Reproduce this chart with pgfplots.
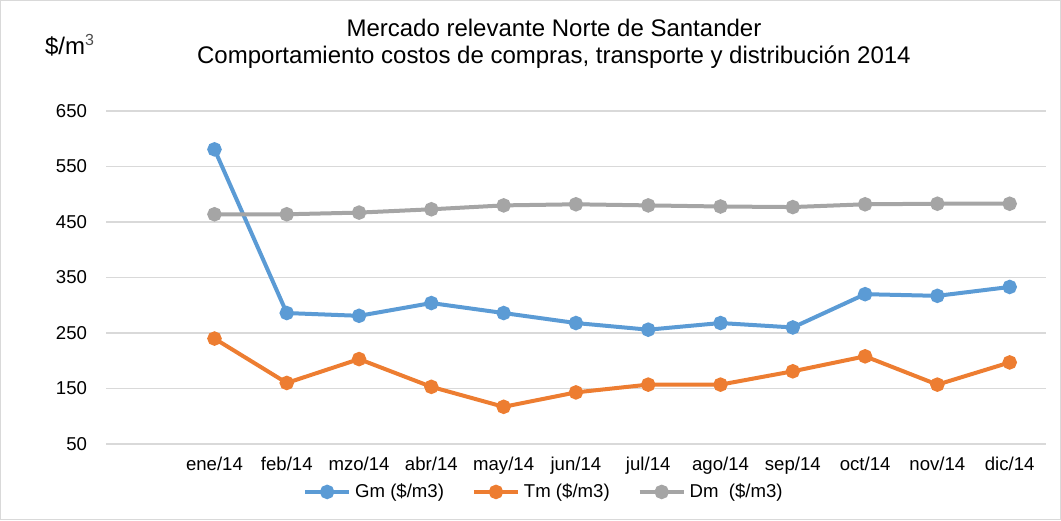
\documentclass[border=0pt]{standalone}
\usepackage{fontspec}
\setmainfont{Liberation Sans}
\usepackage{pgfplots}
\pgfplotsset{compat=1.18}

\definecolor{cGm}{HTML}{5B9BD5}
\definecolor{cTm}{HTML}{ED7D31}
\definecolor{cDm}{HTML}{A5A5A5}
\definecolor{gridc}{HTML}{D9D9D9}

\begin{document}
\begin{tikzpicture}
\begin{axis}[
  scale only axis, width=470pt, height=166.5pt,
  xmin=-0.5, xmax=12.5, ymin=50, ymax=650,
  xtick={1,...,12},
  xticklabels={ene/14,feb/14,mzo/14,abr/14,may/14,jun/14,jul/14,ago/14,sep/14,oct/14,nov/14,dic/14},
  ytick={50,150,...,650},
  ymajorgrids, grid style={gridc, line width=0.75pt},
  axis line style={draw=none}, major tick length=0pt,
  tick label style={font=\fontsize{9.3}{11}\selectfont},
  /pgf/number format/assume math mode=true,
  yticklabel style={xshift=-6pt},
  xticklabel style={yshift=-3pt},
  clip=false,
  legend style={draw=none, fill=none, legend columns=-1,
    at={(rel axis cs:0.467,-0.144)}, anchor=center,
    font=\fontsize{9.3}{11}\selectfont,
    /tikz/every even column/.append style={column sep=12pt}},
  legend image code/.code={\draw[mark repeat=2,mark phase=2,#1] plot coordinates {(0pt,0pt) (11pt,0pt) (22pt,0pt)};},
  every axis plot/.append style={line width=2pt, mark=*, mark size=2.6pt},
]
% frame around the whole chart
\draw[gridc, line width=0.6pt] (rel axis cs:-0.1122,-0.2267) rectangle (rel axis cs:1.0155,1.3318);

\addplot[color=cGm] coordinates {
 (1,581) (2,286) (3,281) (4,304) (5,286) (6,268) (7,256) (8,268) (9,260) (10,320) (11,317) (12,333)
};
\addlegendentry{Gm (\$/m3)}
\addplot[color=cTm] coordinates {
 (1,240) (2,160) (3,203) (4,153) (5,117) (6,143) (7,157) (8,157) (9,181) (10,208) (11,157) (12,197)
};
\addlegendentry{Tm (\$/m3)}
\addplot[color=cDm] coordinates {
 (1,464) (2,464) (3,467) (4,473) (5,480) (6,482) (7,480) (8,478) (9,477) (10,482) (11,483) (12,483)
};
\addlegendentry{Dm\ \ (\$/m3)}

\node[font=\fontsize{12}{14}\selectfont] at (rel axis cs:0.4766,1.2492) {Mercado relevante Norte de Santander};
\node[font=\fontsize{12}{14}\selectfont] at (rel axis cs:0.4766,1.162) {Comportamiento costos de compras, transporte y distribución 2014};
\node[font=\fontsize{12}{14}\selectfont] at (rel axis cs:-0.0383,1.198) {\$/m\textsuperscript{\color{black!70}3}};
\end{axis}
\end{tikzpicture}
\end{document}
